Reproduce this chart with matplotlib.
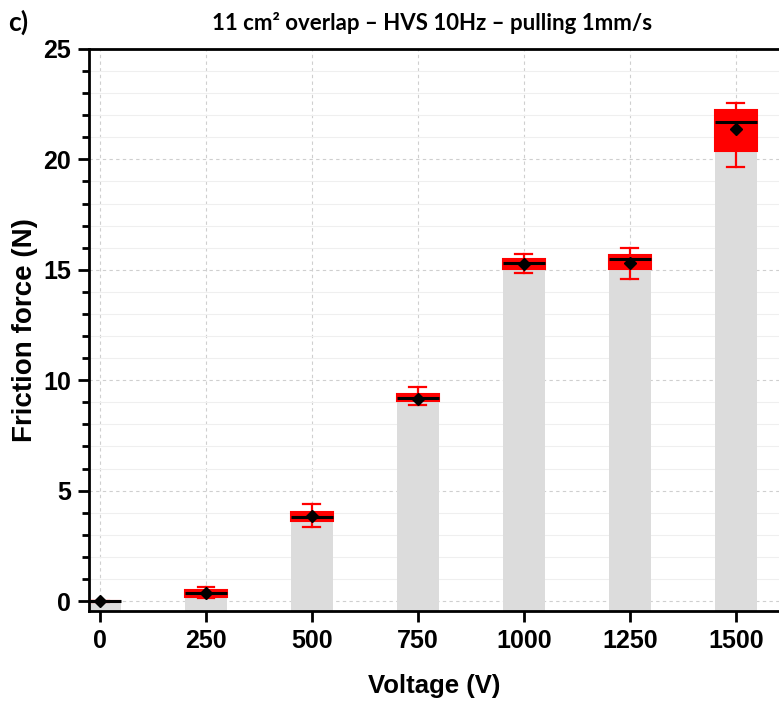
import matplotlib.pyplot as plt
from matplotlib.ticker import MultipleLocator

voltage = [0, 250, 500, 750, 1000, 1250, 1500]
q1 = [0.0, 0.20, 3.64, 9.07, 15.05, 15.02, 20.39]
q3 = [0.0, 0.50, 4.04, 9.36, 15.47, 15.66, 22.24]
median = [0.0, 0.35, 3.82, 9.19, 15.29, 15.49, 21.68]
mean = [0.0, 0.35, 3.86, 9.17, 15.26, 15.32, 21.38]
whislo = [-0.02, 0.15, 3.37, 8.88, 14.84, 14.57, 19.64]
whishi = [0.02, 0.62, 4.39, 9.68, 15.72, 15.97, 22.54]
#----------------------------------------------------------------------------#

plt.rcParams['font.family'] = ['Liberation Sans', 'DejaVu Sans']
plt.rcParams['font.weight'] = 'bold'

fig = plt.figure(figsize=(7.79, 7.04), dpi=100)
ax = fig.add_axes([0.1143, 0.1321, 0.8857, 0.7983])

YMIN, YMAX = -0.45, 25
ax.set_xlim(-26, 1602)
ax.set_ylim(YMIN, YMAX)

# Grey bars (mean value), starting from the bottom of the axis
ax.bar(voltage, [m - YMIN for m in mean], bottom=YMIN, width=100,
       color='#dcdcdc', zorder=1)

# Red boxes with whiskers, median and mean
stats = [dict(q1=a, q3=b, med=c, mean=d, whislo=e, whishi=f)
         for a, b, c, d, e, f in zip(q1, q3, median, mean, whislo, whishi)]
ax.bxp(stats, positions=voltage, widths=100, patch_artist=True,
       showmeans=True, showfliers=False, manage_ticks=False,
       boxprops=dict(facecolor='red', edgecolor='red', linewidth=1.5),
       whiskerprops=dict(color='red', linewidth=1.6),
       capprops=dict(color='red', linewidth=1.6),
       capwidths=40,
       medianprops=dict(color='black', linewidth=2.2),
       meanprops=dict(marker='D', markerfacecolor='black',
                      markeredgecolor='black', markersize=6),
       zorder=3)

# Ticks & grid
ax.xaxis.set_major_locator(MultipleLocator(250))
ax.yaxis.set_major_locator(MultipleLocator(5))
ax.yaxis.set_minor_locator(MultipleLocator(1))
ax.grid(which='major', axis='both', linestyle=(0, (3, 3)), color='#cfcfcf',
        linewidth=0.8, zorder=0)
ax.grid(which='minor', axis='y', linestyle='-', color='#efefef',
        linewidth=0.8, zorder=0)
ax.set_axisbelow(True)

ax.tick_params(which='major', direction='out', length=8, width=2,
               labelsize=18, pad=5)
ax.tick_params(which='minor', direction='out', length=5, width=2)
ax.tick_params(axis='x', which='minor', bottom=False)

for side in ('left', 'bottom', 'top'):
    ax.spines[side].set_linewidth(2)
ax.spines['right'].set_visible(False)

ax.set_xlabel("Voltage (V)", fontsize=18.5, fontweight='bold', labelpad=15)
ax.set_ylabel("Friction force (N)", fontsize=20, fontweight='bold', labelpad=4)

fig.text(0.555, 0.968, "11 cm\u00b2 overlap \u2013 HVS 10Hz \u2013 pulling 1mm/s",
         ha='center', va='center', fontsize=16, fontweight='bold',
         family=['Lato', 'DejaVu Sans'])
fig.text(0.010, 0.968, "c)", ha='left', va='center', fontsize=19,
         fontweight='bold', family=['Lato', 'DejaVu Sans'])

fig.savefig('out.png', dpi=100)
